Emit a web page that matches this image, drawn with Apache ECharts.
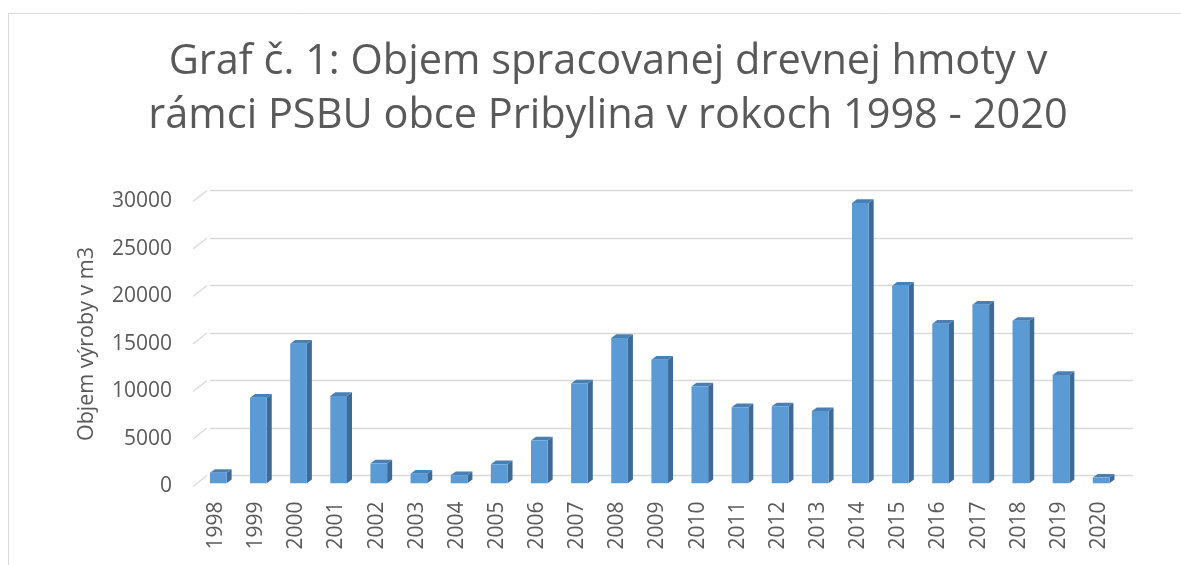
<!DOCTYPE html>
<html>
<head>
<meta charset="utf-8">
<script src="https://cdn.jsdelivr.net/npm/echarts@6/dist/echarts.min.js"></script>
<style>
html,body{margin:0;padding:0;background:#fff;}
#c{width:1181px;height:565px;}
</style>
</head>
<body>
<div id="c"></div>
<script>
const years = ['1998','1999','2000','2001','2002','2003','2004','2005','2006','2007','2008','2009','2010','2011','2012','2013','2014','2015','2016','2017','2018','2019','2020'];
const volumes = [1100, 9000, 14700, 9200, 2100, 1000, 850, 2000, 4500, 10500, 15300, 13000, 10200, 8000, 8100, 7600, 29500, 20800, 16800, 18800, 17100, 11400, 600];
const yTicks = [0, 5000, 10000, 15000, 20000, 25000, 30000];
const titleText = 'Graf č. 1: Objem spracovanej drevnej hmoty v\nrámci PSBU obce Pribylina v rokoch 1998 - 2020';
const yName = 'Objem výroby v m3';

const FONT = '"Open Sans", sans-serif';
const TXT = '#595959';
const GRIDC = '#d9d9d9';
const FRONT = '#5b9bd5', SIDE = '#3d6a96', TOP = '#4a7fb4';
const BAR_DX = 2.2, BAR_DY = -3.2, SIDE_X = 5, SIDE_Y = 3.7;
const WALL_X = 14, WALL_Y = 11;

const chart = echarts.init(document.getElementById('c'), null, {renderer: 'canvas'});

function renderBar(params, api) {
  const i = api.value(0), v = api.value(1);
  const topP = api.coord([i, v]);
  const baseP = api.coord([i, 0]);
  const bw = api.size([1, 0])[0] * 0.416;
  const xl = topP[0] - bw / 2 + BAR_DX, xr = xl + bw;
  const yt = topP[1] + BAR_DY, yb = baseP[1] + BAR_DY;
  return {
    type: 'group',
    children: [
      {type: 'polygon', shape: {points: [[xr, yb], [xr, yt], [xr + SIDE_X, yt - SIDE_Y], [xr + SIDE_X, yb - SIDE_Y]]}, style: {fill: SIDE}},
      {type: 'polygon', shape: {points: [[xl, yt], [xl + SIDE_X, yt - SIDE_Y], [xr + SIDE_X, yt - SIDE_Y], [xr, yt]]}, style: {fill: TOP}},
      {type: 'rect', shape: {x: xl, y: yt, width: bw, height: yb - yt}, style: {fill: FRONT}}
    ]
  };
}

function renderDiag(params, api) {
  const p = api.coord([0, api.value(1)]);
  const x0 = params.coordSys.x - 3;
  return {
    type: 'line',
    shape: {x1: x0, y1: p[1], x2: x0 + WALL_X, y2: p[1] - WALL_Y},
    style: {stroke: GRIDC, lineWidth: 1.3}
  };
}

const option = {
  backgroundColor: '#fff',
  animation: false,
  title: {
    text: titleText,
    left: 603,
    top: 30,
    textAlign: 'center',
    textStyle: {fontFamily: FONT, fontSize: 41.5, fontWeight: 'normal', color: TXT, lineHeight: 54}
  },
  graphic: [
    {type: 'line', shape: {x1: 8.5, y1: 13.5, x2: 1181, y2: 13.5}, style: {stroke: GRIDC, lineWidth: 1}},
    {type: 'line', shape: {x1: 8.5, y1: 13.5, x2: 8.5, y2: 565}, style: {stroke: GRIDC, lineWidth: 1}}
  ],
  grid: [
    {left: 196, right: 62, top: 201.5, bottom: 78.5, outerBoundsMode: 'none'},
    {left: 210, right: 48, top: 190.5, bottom: 89.5, outerBoundsMode: 'none'}
  ],
  xAxis: [
    {
      type: 'category', data: years, gridIndex: 0,
      axisLine: {show: false}, axisTick: {show: false},
      axisLabel: {rotate: 90, margin: 15, fontFamily: FONT, fontSize: 21, color: TXT, interval: 0, hideOverlap: false}
    },
    {
      type: 'category', data: years, gridIndex: 1, show: false
    }
  ],
  yAxis: [
    {
      type: 'value', gridIndex: 0, min: 0, max: 30000, interval: 5000,
      axisLine: {show: false}, axisTick: {show: false}, splitLine: {show: false},
      axisLabel: {margin: 24, fontFamily: FONT, fontSize: 21, color: TXT, formatter: v => String(v)},
      name: yName, nameLocation: 'middle', nameGap: 98, nameRotate: 90,
      nameTextStyle: {fontFamily: FONT, fontSize: 21.5, color: TXT}
    },
    {
      type: 'value', gridIndex: 1, min: 0, max: 30000, interval: 5000,
      axisLine: {show: false}, axisTick: {show: false}, axisLabel: {show: false},
      splitLine: {show: true, lineStyle: {color: GRIDC, width: 1.3}}
    }
  ],
  series: [
    {
      type: 'custom', xAxisIndex: 0, yAxisIndex: 0,
      renderItem: renderDiag,
      data: yTicks.map(t => [0, t]),
      encode: {x: 0, y: 1}, silent: true, z: 1
    },
    {
      type: 'custom', xAxisIndex: 0, yAxisIndex: 0,
      renderItem: renderBar,
      data: volumes.map((v, i) => [i, v]),
      encode: {x: 0, y: 1}, z: 2
    }
  ]
};
chart.setOption(option);
</script>
</body>
</html>
